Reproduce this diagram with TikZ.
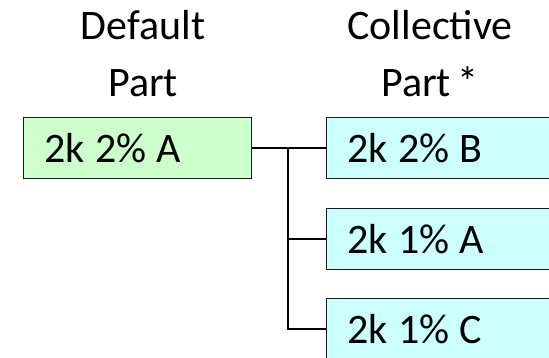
\documentclass[tikz,border=0pt]{standalone}
\usepackage{fontspec}
\setmainfont{Carlito}[WordSpace=0.75]
\usepackage{tikz}
\usetikzlibrary{positioning, calc}
\definecolor{partgreen}{HTML}{CCFFCC}
\definecolor{partcyan}{HTML}{CCFFFF}
\definecolor{edgegray}{HTML}{1A1A1A}

\tikzset{
  parthead/.style={align=center, font=\fontsize{42}{57}\selectfont, inner sep=0pt},
  partbox/.style={draw=edgegray, line width=1.4pt, anchor=west, minimum height=61pt,
    inner xsep=21pt, inner ysep=0pt, align=left,
    font=\fontsize{42}{50}\selectfont,
    execute at begin node={\spaceskip=0.24em\relax}},
  dfltbox/.style={partbox, fill=partgreen, text width=186pt},
  collbox/.style={partbox, fill=partcyan, text width=192pt},
  branch/.style={line width=1.4pt, black}
}

\begin{document}
\begin{tikzpicture}[x=1pt, y=-1pt]
  \useasboundingbox (0,0) rectangle (549,358);

  % column heads
  \node[parthead, anchor=base] (hdDflt) at (143,97) {Default\\Part};
  \node[parthead, anchor=base] (hdColl) at (430,97) {Collective\\Part *};

  % parts
  \node[dfltbox] (dflt) at (23,148) {2k 2\% A};
  \node[collbox] (cB) at (326,148) {2k 2\% B};
  \node[collbox] (cA) at (326,239) {2k 1\% A};
  \node[collbox] (cC) at (326,329) {2k 1\% C};

  % tree connectors
  \coordinate (jn) at (288,148);
  \draw[branch] (dflt) -- (cB);
  \draw[branch] (jn) |- (cA);
  \draw[branch] (jn) |- (cC);
\end{tikzpicture}
\end{document}
